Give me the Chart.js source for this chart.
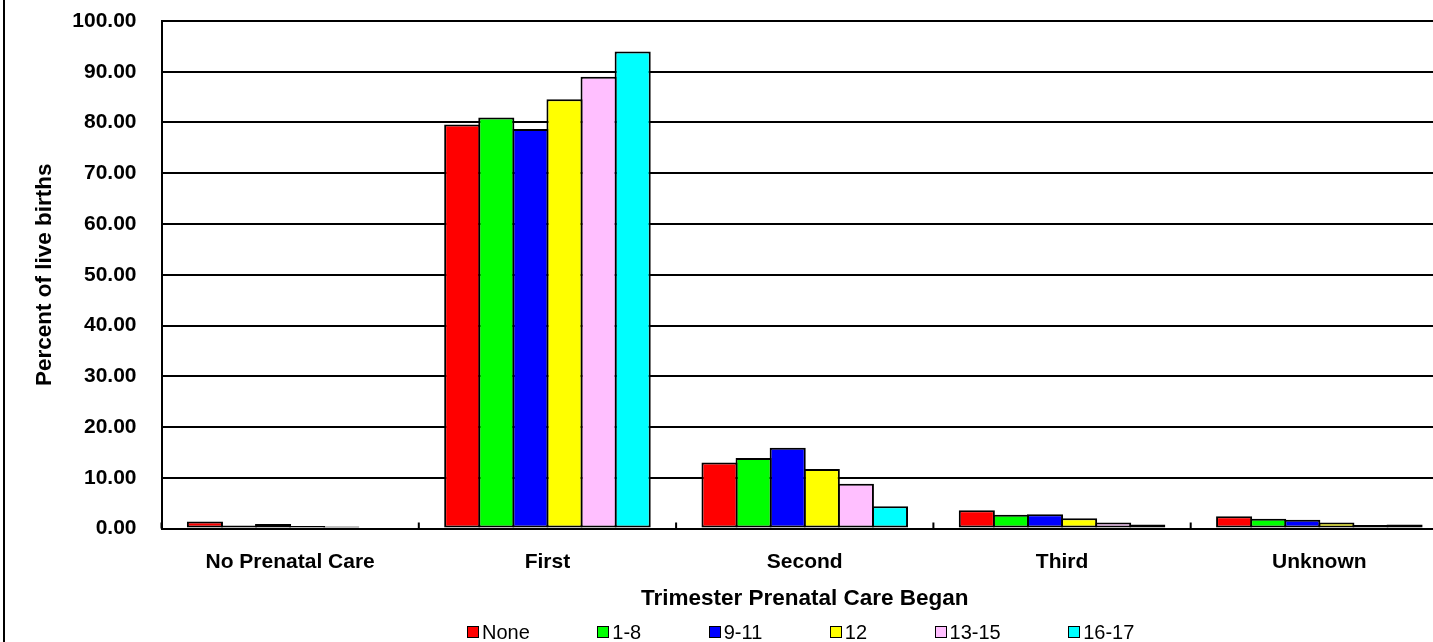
<!DOCTYPE html>
<html>
<head>
<meta charset="utf-8">
<script src="https://cdn.jsdelivr.net/npm/chart.js@4.4.1/dist/chart.umd.min.js"></script>
<style>
  html, body { margin: 0; padding: 0; background: #fff; overflow: hidden; width: 1433px; height: 642px; }
  #wrap { position: relative; width: 1433px; height: 642px; overflow: hidden; }
  #c { position: absolute; left: 0; top: 0; }
  #frame { position: absolute; left: 3px; top: 0; width: 2px; height: 642px; background: #000; }
  #legend { position: absolute; left: 467px; top: 622px; display: flex; gap: 67.5px;
            font-family: "Liberation Sans", Arial, sans-serif; font-size: 20px; line-height: 20px; color: #000; }
  .item { display: flex; align-items: center; white-space: nowrap; }
  .box { display: inline-block; width: 10px; height: 10px; border: 1.5px solid #000; margin-right: 3px; }
</style>
</head>
<body>
<div id="wrap">
  <canvas id="c" width="1448" height="642"></canvas>
  <div id="frame"></div>
  <div id="legend"></div>
</div>
<script>
const categories = ['No Prenatal Care', 'First', 'Second', 'Third', 'Unknown'];
const seriesNames = ['None', '1-8', '9-11', '12', '13-15', '16-17'];
const seriesColors = ['#FF0000', '#00FF00', '#0000FF', '#FFFF00', '#FFBFFF', '#00FFFF'];
const valuesNone  = [1.4, 79.6, 13.0, 3.6, 2.4];
const values1to8  = [0.6, 81.0, 13.9, 2.7, 1.9];
const values9to11 = [0.9, 78.7, 15.9, 2.8, 1.7];
const values12    = [0.5, 84.6, 11.7, 2.0, 1.2];
const values13to15 = [0.4, 89.0, 8.8, 1.2, 0.7];
const values16to17 = [0.2, 94.0, 4.4, 0.8, 0.8];
const yTickValues = [0, 10, 20, 30, 40, 50, 60, 70, 80, 90, 100];
const yTickLabels = ['0.00', '10.00', '20.00', '30.00', '40.00', '50.00', '60.00', '70.00', '80.00', '90.00', '100.00'];
const xTitle = 'Trimester Prenatal Care Began';
const yTitle = 'Percent of live births';

const allSeries = [valuesNone, values1to8, values9to11, values12, values13to15, values16to17];
const FONT = '"Liberation Sans", Arial, sans-serif';

const innerTicks = {
  id: 'innerTicks',
  afterDatasetsDraw(chart) {
    const xs = chart.scales.x;
    const ctx = chart.ctx;
    const n = categories.length;
    const step = xs.getPixelForValue(1) - xs.getPixelForValue(0);
    const base = chart.chartArea.bottom;
    ctx.save();
    ctx.strokeStyle = '#000';
    ctx.lineWidth = 2;
    ctx.beginPath();
    for (let i = 0; i <= n; i++) {
      const x = xs.getPixelForValue(i) - step / 2;
      ctx.moveTo(x, base);
      ctx.lineTo(x, base - 6);
    }
    ctx.stroke();
    ctx.restore();
  }
};

new Chart(document.getElementById('c'), {
  type: 'bar',
  data: {
    labels: categories,
    datasets: allSeries.map((vals, i) => ({
      label: seriesNames[i],
      data: vals,
      backgroundColor: seriesColors[i],
      borderColor: '#000',
      borderWidth: 2,
      borderSkipped: false,
      categoryPercentage: 0.795,
      barPercentage: 1.059
    }))
  },
  options: {
    responsive: false,
    animation: false,
    devicePixelRatio: 1,
    layout: { padding: { top: 21, left: 0, right: 0, bottom: 0 } },
    plugins: { legend: { display: false }, tooltip: { enabled: false } },
    scales: {
      x: {
        grid: { display: false, offset: true },
        border: { display: true, color: '#000', width: 2 },
        ticks: { color: '#000', padding: 13, font: { family: FONT, size: 21, weight: 'bold' }, maxRotation: 0, autoSkip: false },
        title: { display: true, text: xTitle, color: '#000', font: { family: FONT, size: 22.5, weight: 'bold' }, padding: { top: 0, bottom: 30 } },
        afterFit(scale) { scale.height = 642 - 528.5; scale.paddingLeft = 0; scale.paddingRight = 0; }
      },
      y: {
        min: 0, max: 100,
        afterBuildTicks(scale) { scale.ticks = yTickValues.map(v => ({ value: v })); },
        grid: { color: '#000', lineWidth: 2, drawTicks: false },
        border: { display: true, color: '#000', width: 2 },
        ticks: {
          color: '#000', padding: 25,
          font: { family: FONT, size: 21, weight: 'bold' },
          callback: (v) => yTickLabels[yTickValues.indexOf(v)]
        },
        title: { display: true, text: yTitle, color: '#000', font: { family: FONT, size: 22.5, weight: 'bold' }, padding: { top: 31.5, bottom: 0 } },
        afterFit(scale) { scale.width = 161.5; scale.paddingTop = 0; scale.paddingBottom = 0; }
      }
    }
  },
  plugins: [innerTicks]
});

const legend = document.getElementById('legend');
seriesNames.forEach((name, i) => {
  const item = document.createElement('div');
  item.className = 'item';
  const box = document.createElement('span');
  box.className = 'box';
  box.style.background = seriesColors[i];
  const txt = document.createElement('span');
  txt.textContent = name;
  item.appendChild(box);
  item.appendChild(txt);
  legend.appendChild(item);
});
</script>
</body>
</html>
